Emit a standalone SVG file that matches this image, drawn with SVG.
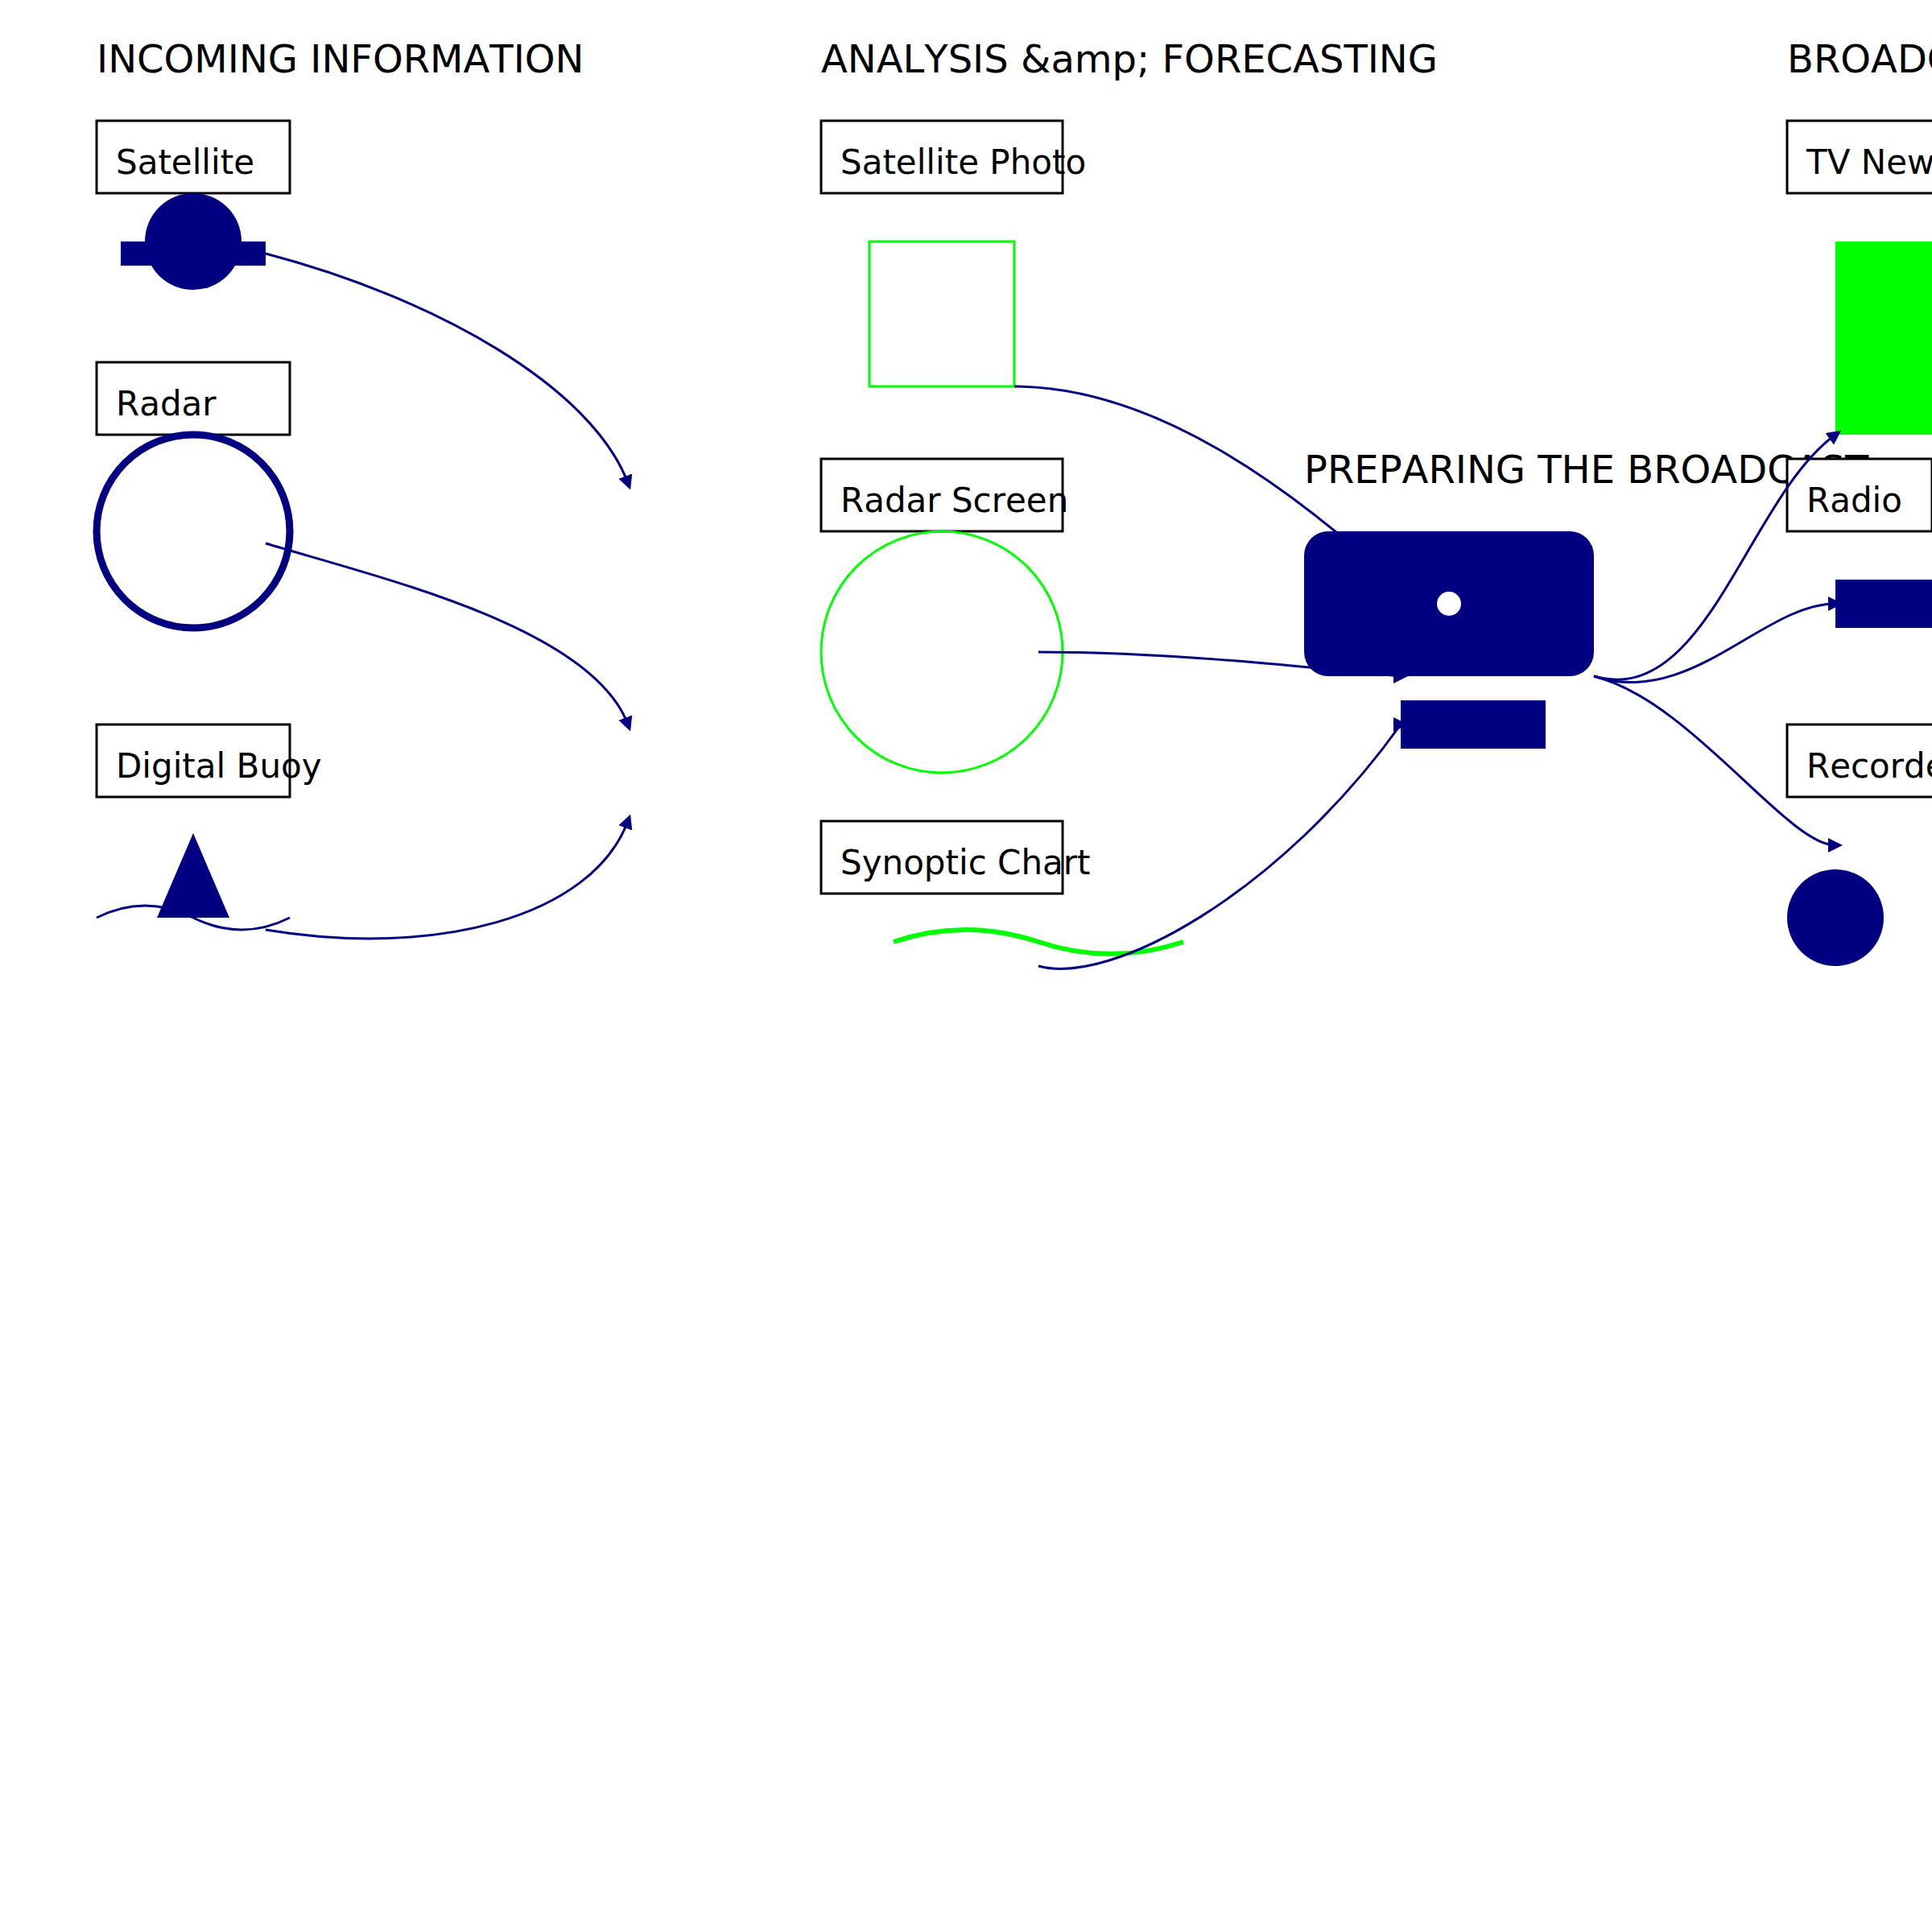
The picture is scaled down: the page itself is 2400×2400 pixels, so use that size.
<svg xmlns="http://www.w3.org/2000/svg" width="2400" height="2400" viewBox="0 0 2400 2400">
<style>
text{font-family:"DejaVu Sans",sans-serif;fill:#000;font-kerning:none}
.t{font-size:16px}
.l{font-size:14px}
.b{fill:#fff;stroke:#000;stroke-width:3}
.n{fill:#000080}
.c{fill:none;stroke:#000080;stroke-width:3;marker-end:url(#a)}
.h{marker-end:url(#ah)}
</style>
<defs>
<marker id="a" markerWidth="6" markerHeight="6" refX="3" refY="3" orient="auto"><path d="M0 0L6 3L0 6Z" fill="#000080"/></marker>
<marker id="ah" markerWidth="6" markerHeight="6" refX="3" refY="3" orient="0"><path d="M0 0L6 3L0 6Z" fill="#000080"/></marker>
</defs>
<rect width="2400" height="2400" fill="#fff"/>
<g transform="scale(3)"><text class="t" x="40" y="30">INCOMING INFORMATION</text>
<text class="t" x="340" y="30">ANALYSIS &amp;amp; FORECASTING</text>
<text class="t" x="540" y="200">PREPARING THE BROADCAST</text>
<text class="t" x="740" y="30">BROADCAST</text></g>
<g id="satellite"><rect class="b" x="120" y="150" width="240" height="90"/><text class="l" transform="scale(3)" x="48" y="72">Satellite</text><circle class="n" cx="240" cy="300" r="60"/><rect class="n" x="150" y="300" width="180" height="30"/></g>
<g id="radar"><rect class="b" x="120" y="450" width="240" height="90"/><text class="l" transform="scale(3)" x="48" y="172">Radar</text><circle cx="240" cy="660" r="120" fill="none" stroke="#000080" stroke-width="9"/></g>
<g id="buoy"><rect class="b" x="120" y="900" width="240" height="90"/><text class="l" transform="scale(3)" x="48" y="322">Digital Buoy</text><path d="M120 1140Q180 1110 240 1140T360 1140" fill="none" stroke="#000080" stroke-width="3"/><path class="n" d="M240 1035L285 1140H195Z"/></g>
<g id="photo"><rect class="b" x="1020" y="150" width="300" height="90"/><text class="l" transform="scale(3)" x="348" y="72">Satellite Photo</text><rect x="1080" y="300" width="180" height="180" fill="none" stroke="#0f0" stroke-width="3"/></g>
<g id="radar-screen"><rect class="b" x="1020" y="570" width="300" height="90"/><text class="l" transform="scale(3)" x="348" y="212">Radar Screen</text><circle cx="1170" cy="810" r="150" fill="none" stroke="#0f0" stroke-width="3"/></g>
<g id="chart"><rect class="b" x="1020" y="1020" width="300" height="90"/><text class="l" transform="scale(3)" x="348" y="362">Synoptic Chart</text><path d="M1110 1170Q1200 1140 1290 1170T1470 1170" fill="none" stroke="#0f0" stroke-width="6"/></g>
<g id="studio"><rect class="n" x="1620" y="660" width="360" height="180" rx="30"/><circle cx="1800" cy="750" r="15" fill="#fff"/><rect class="n" x="1740" y="870" width="180" height="60"/></g>
<g id="tv"><rect class="b" x="2220" y="150" width="240" height="90"/><text class="l" transform="scale(3)" x="748" y="72">TV News</text><rect x="2280" y="300" width="180" height="240" fill="#0f0"/></g>
<g id="radio"><rect class="b" x="2220" y="570" width="180" height="90"/><text class="l" transform="scale(3)" x="748" y="212">Radio</text><rect class="n" x="2280" y="720" width="180" height="60"/></g>
<g id="recorded"><rect class="b" x="2220" y="900" width="240" height="90"/><text class="l" transform="scale(3)" x="748" y="322">Recorded</text><circle class="n" cx="2280" cy="1140" r="60"/></g>
<g id="connectors">
<path class="c" d="M330 315C540 370 735 480 780 600"/>
<path class="c" d="M330 675C480 720 735 780 780 900"/>
<path class="c" d="M330 1155C540 1190 735 1140 780 1020"/>
<path class="c" d="M1260 480C1430 480 1600 600 1750 740"/>
<path class="c h" d="M1290 810C1440 810 1590 825 1740 840"/>
<path class="c h" d="M1290 1200C1380 1225 1590 1110 1740 900"/>
<path class="c" d="M1980 840C2120 880 2170 620 2280 540"/>
<path class="c" d="M1980 840C2100 880 2190 750 2280 750"/>
<path class="c" d="M1980 840C2100 870 2220 1050 2280 1050"/>
</g>
</svg>
